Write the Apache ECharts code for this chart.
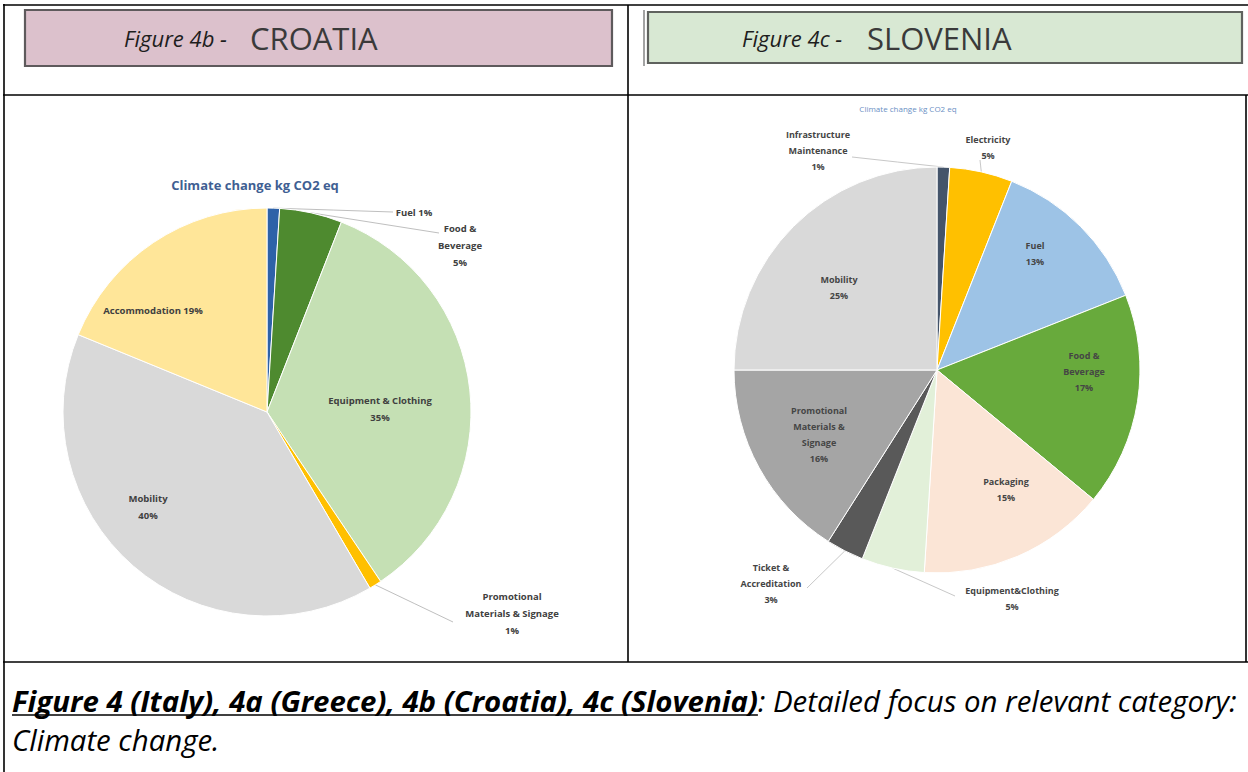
<!DOCTYPE html>
<html><head><meta charset="utf-8">
<script src="https://cdn.jsdelivr.net/npm/echarts@6/dist/echarts.min.js"></script>
<style>html,body{margin:0;padding:0;background:#fff;overflow:hidden}#c{width:1248px;height:772px}</style>
</head><body><div id="c"></div>
<script>
// ---------- DATA ----------
const croCategories = ['Fuel', 'Food & Beverage', 'Equipment & Clothing', 'Promotional Materials & Signage', 'Mobility', 'Accommodation'];
const croValues = [1, 5, 35, 1, 40, 19];
const croLabelNames = ['Fuel', 'Food &\nBeverage', 'Equipment & Clothing', 'Promotional\nMaterials & Signage', 'Mobility', 'Accommodation'];
const croLabelSep = [' ', '\n', '\n', '\n', '\n', ' '];

const sloCategories = ['Infrastructure Maintenance', 'Electricity', 'Fuel', 'Food & Beverage', 'Packaging', 'Equipment & Clothing', 'Ticket & Accreditation', 'Promotional Materials & Signage', 'Mobility'];
const sloValues = [1, 5, 13, 17, 15, 5, 3, 16, 25];
const sloLabelNames = ['Infrastructure\nMaintenance', 'Electricity', 'Fuel', 'Food &\nBeverage', 'Packaging', 'Equipment&Clothing', 'Ticket &\nAccreditation', 'Promotional\nMaterials &\nSignage', 'Mobility'];

const chartTitle = 'Climate change kg CO2 eq';
const headerLeft = ['Figure 4b - ', 'CROATIA'];
const headerRight = ['Figure 4c - ', 'SLOVENIA'];
const captionBold = 'Figure 4 (Italy), 4a (Greece), 4b (Croatia), 4c (Slovenia)';
const captionRest = ': Detailed focus on relevant category:';
const captionLine2 = 'Climate change.';

// ---------- STYLE ----------
const croColors = ['#2e62a8', '#4e8a2f', '#c5e0b4', '#ffc000', '#d9d9d9', '#ffe699'];
const sloColors = ['#44546a', '#ffc000', '#9dc3e6', '#68aa3c', '#fbe5d6', '#e2f0d9', '#595959', '#a5a5a5', '#d9d9d9'];
const croCenter = [267, 412], croRadius = 204;
const sloCenter = [937, 370], sloRadius = 203;
// label anchor offsets relative to pie centre
const croLabelOff = [[147, -200], [193, -167], [113, -3], [245, 201], [-119, 95], [-114, -102]];
const croLineEnd = [[126, -200], [172, -179], null, [186, 210], null, null];
const sloLabelOff = [[-119, -220], [51, -223], [98, -117], [147, 1], [69, 119], [75, 228], [-166, 213], [-118, 64], [-98, -83]];
const sloLineEnd = [[-85, -213], [43, -210], null, null, null, [18, 226], [-130, 218], null, null];

const FONT = '"Open Sans", "Liberation Sans", sans-serif';

function measure(text, font) {
  const c = document.createElement('canvas').getContext('2d');
  c.font = font; return c.measureText(text).width;
}
// fit caption line to the cell width
let capSize = 24;
const wFull = measure(captionBold, 'italic bold ' + capSize + 'px ' + FONT) + measure(captionRest, 'italic ' + capSize + 'px ' + FONT);
capSize = capSize * 1225 / wFull;
const wBold = measure(captionBold, 'italic bold ' + capSize + 'px ' + FONT);

function makeLayout(center, off, ends) {
  return function (p) {
    const i = p.dataIndex;
    const r = { x: center[0] + off[i][0], y: center[1] + off[i][1], align: 'center', verticalAlign: 'middle' };
    if (ends[i] && p.labelLinePoints) {
      const s = p.labelLinePoints[0];
      const e = [center[0] + ends[i][0], center[1] + ends[i][1]];
      r.labelLinePoints = [s, [(s[0] + e[0]) / 2, (s[1] + e[1]) / 2], e];
    }
    return r;
  };
}

function pieData(cats, vals, colors, ends) {
  return cats.map((n, i) => ({
    name: n, value: vals[i],
    itemStyle: { color: colors[i] },
    label: { position: ends[i] ? 'outside' : 'inside' },
    labelLine: { show: !!ends[i] }
  }));
}

const lineStyle = { stroke: '#000', lineWidth: 1.6 };
const graphics = [
  // table grid
  { type: 'line', shape: { x1: 3, y1: 5, x2: 1248, y2: 5 }, style: lineStyle },
  { type: 'line', shape: { x1: 4, y1: 4, x2: 4, y2: 772 }, style: lineStyle },
  { type: 'line', shape: { x1: 628, y1: 5, x2: 628, y2: 662 }, style: lineStyle },
  { type: 'line', shape: { x1: 1246, y1: 95, x2: 1246, y2: 662 }, style: lineStyle },
  { type: 'line', shape: { x1: 3, y1: 95, x2: 1248, y2: 95 }, style: lineStyle },
  { type: 'line', shape: { x1: 3, y1: 662, x2: 1248, y2: 662 }, style: lineStyle },
  // header boxes
  { type: 'rect', shape: { x: 25, y: 10, width: 587, height: 56 }, style: { fill: '#dcc1cc', stroke: '#5e5a5c', lineWidth: 2.2 } },
  { type: 'rect', shape: { x: 648, y: 12, width: 594, height: 51 }, style: { fill: '#d8e8d3', stroke: '#5f625e', lineWidth: 2.2 } },
  { type: 'line', shape: { x1: 644, y1: 10, x2: 644, y2: 66 }, style: { stroke: '#666', lineWidth: 1.2 } },
  { type: 'text', x: 124, y: 38, style: { text: headerLeft[0], font: 'italic 22px ' + FONT, fill: '#1e1e1e', textVerticalAlign: 'middle' } },
  { type: 'text', x: 250, y: 38, style: { text: headerLeft[1], font: '31px ' + FONT, fill: '#3a3a3a', textVerticalAlign: 'middle' } },
  { type: 'text', x: 742, y: 38, style: { text: headerRight[0], font: 'italic 22px ' + FONT, fill: '#1e1e1e', textVerticalAlign: 'middle' } },
  { type: 'text', x: 867, y: 38, style: { text: headerRight[1], font: '31px ' + FONT, fill: '#3a3a3a', textVerticalAlign: 'middle' } },
  // caption
  { type: 'text', x: 12, y: 701, style: { text: captionBold, font: 'italic bold ' + capSize + 'px ' + FONT, fill: '#000', textVerticalAlign: 'middle' } },
  { type: 'text', x: 12 + wBold, y: 701, style: { text: captionRest, font: 'italic ' + capSize + 'px ' + FONT, fill: '#000', textVerticalAlign: 'middle' } },
  { type: 'line', shape: { x1: 12, y1: 715, x2: 12 + wBold, y2: 715 }, style: { stroke: '#000', lineWidth: 1.6 } },
  { type: 'text', x: 12, y: 740, style: { text: captionLine2, font: 'italic ' + capSize + 'px ' + FONT, fill: '#000', textVerticalAlign: 'middle' } }
];

const chart = echarts.init(document.getElementById('c'), null, { renderer: 'svg', width: 1248, height: 772 });
chart.setOption({
  animation: false,
  backgroundColor: '#fff',
  title: [
    { text: chartTitle, left: 250, top: 180, textAlign: 'center', textVerticalAlign: 'middle',
      textStyle: { fontFamily: FONT, fontSize: 13, fontWeight: 'bold', color: '#3f5f93' } },
    { text: chartTitle, left: 903, top: 103, textAlign: 'center', textVerticalAlign: 'middle',
      textStyle: { fontFamily: FONT, fontSize: 8, fontWeight: 'normal', color: '#6a8fc4' } }
  ],
  graphic: graphics,
  series: [
    {
      type: 'pie', center: croCenter, radius: croRadius, startAngle: 90, clockwise: true,
      avoidLabelOverlap: false,
      itemStyle: { borderColor: '#ffffff', borderWidth: 1 },
      label: {
        fontFamily: FONT, fontSize: 9.5, fontWeight: 'bold', color: '#404040', lineHeight: 17,
        formatter: p => croLabelNames[p.dataIndex] + croLabelSep[p.dataIndex] + p.value + '%'
      },
      labelLine: { lineStyle: { color: '#bfbfbf', width: 1 } },
      labelLayout: makeLayout(croCenter, croLabelOff, croLineEnd),
      data: pieData(croCategories, croValues, croColors, croLineEnd)
    },
    {
      type: 'pie', center: sloCenter, radius: sloRadius, startAngle: 90, clockwise: true,
      avoidLabelOverlap: false,
      itemStyle: { borderColor: '#ffffff', borderWidth: 1 },
      label: {
        fontFamily: FONT, fontSize: 9, fontWeight: 'bold', color: '#454545', lineHeight: 16,
        formatter: p => sloLabelNames[p.dataIndex] + '\n' + p.value + '%'
      },
      labelLine: { lineStyle: { color: '#c8c8c8', width: 1 } },
      labelLayout: makeLayout(sloCenter, sloLabelOff, sloLineEnd),
      data: pieData(sloCategories, sloValues, sloColors, sloLineEnd)
    }
  ]
});
</script>
</body></html>
